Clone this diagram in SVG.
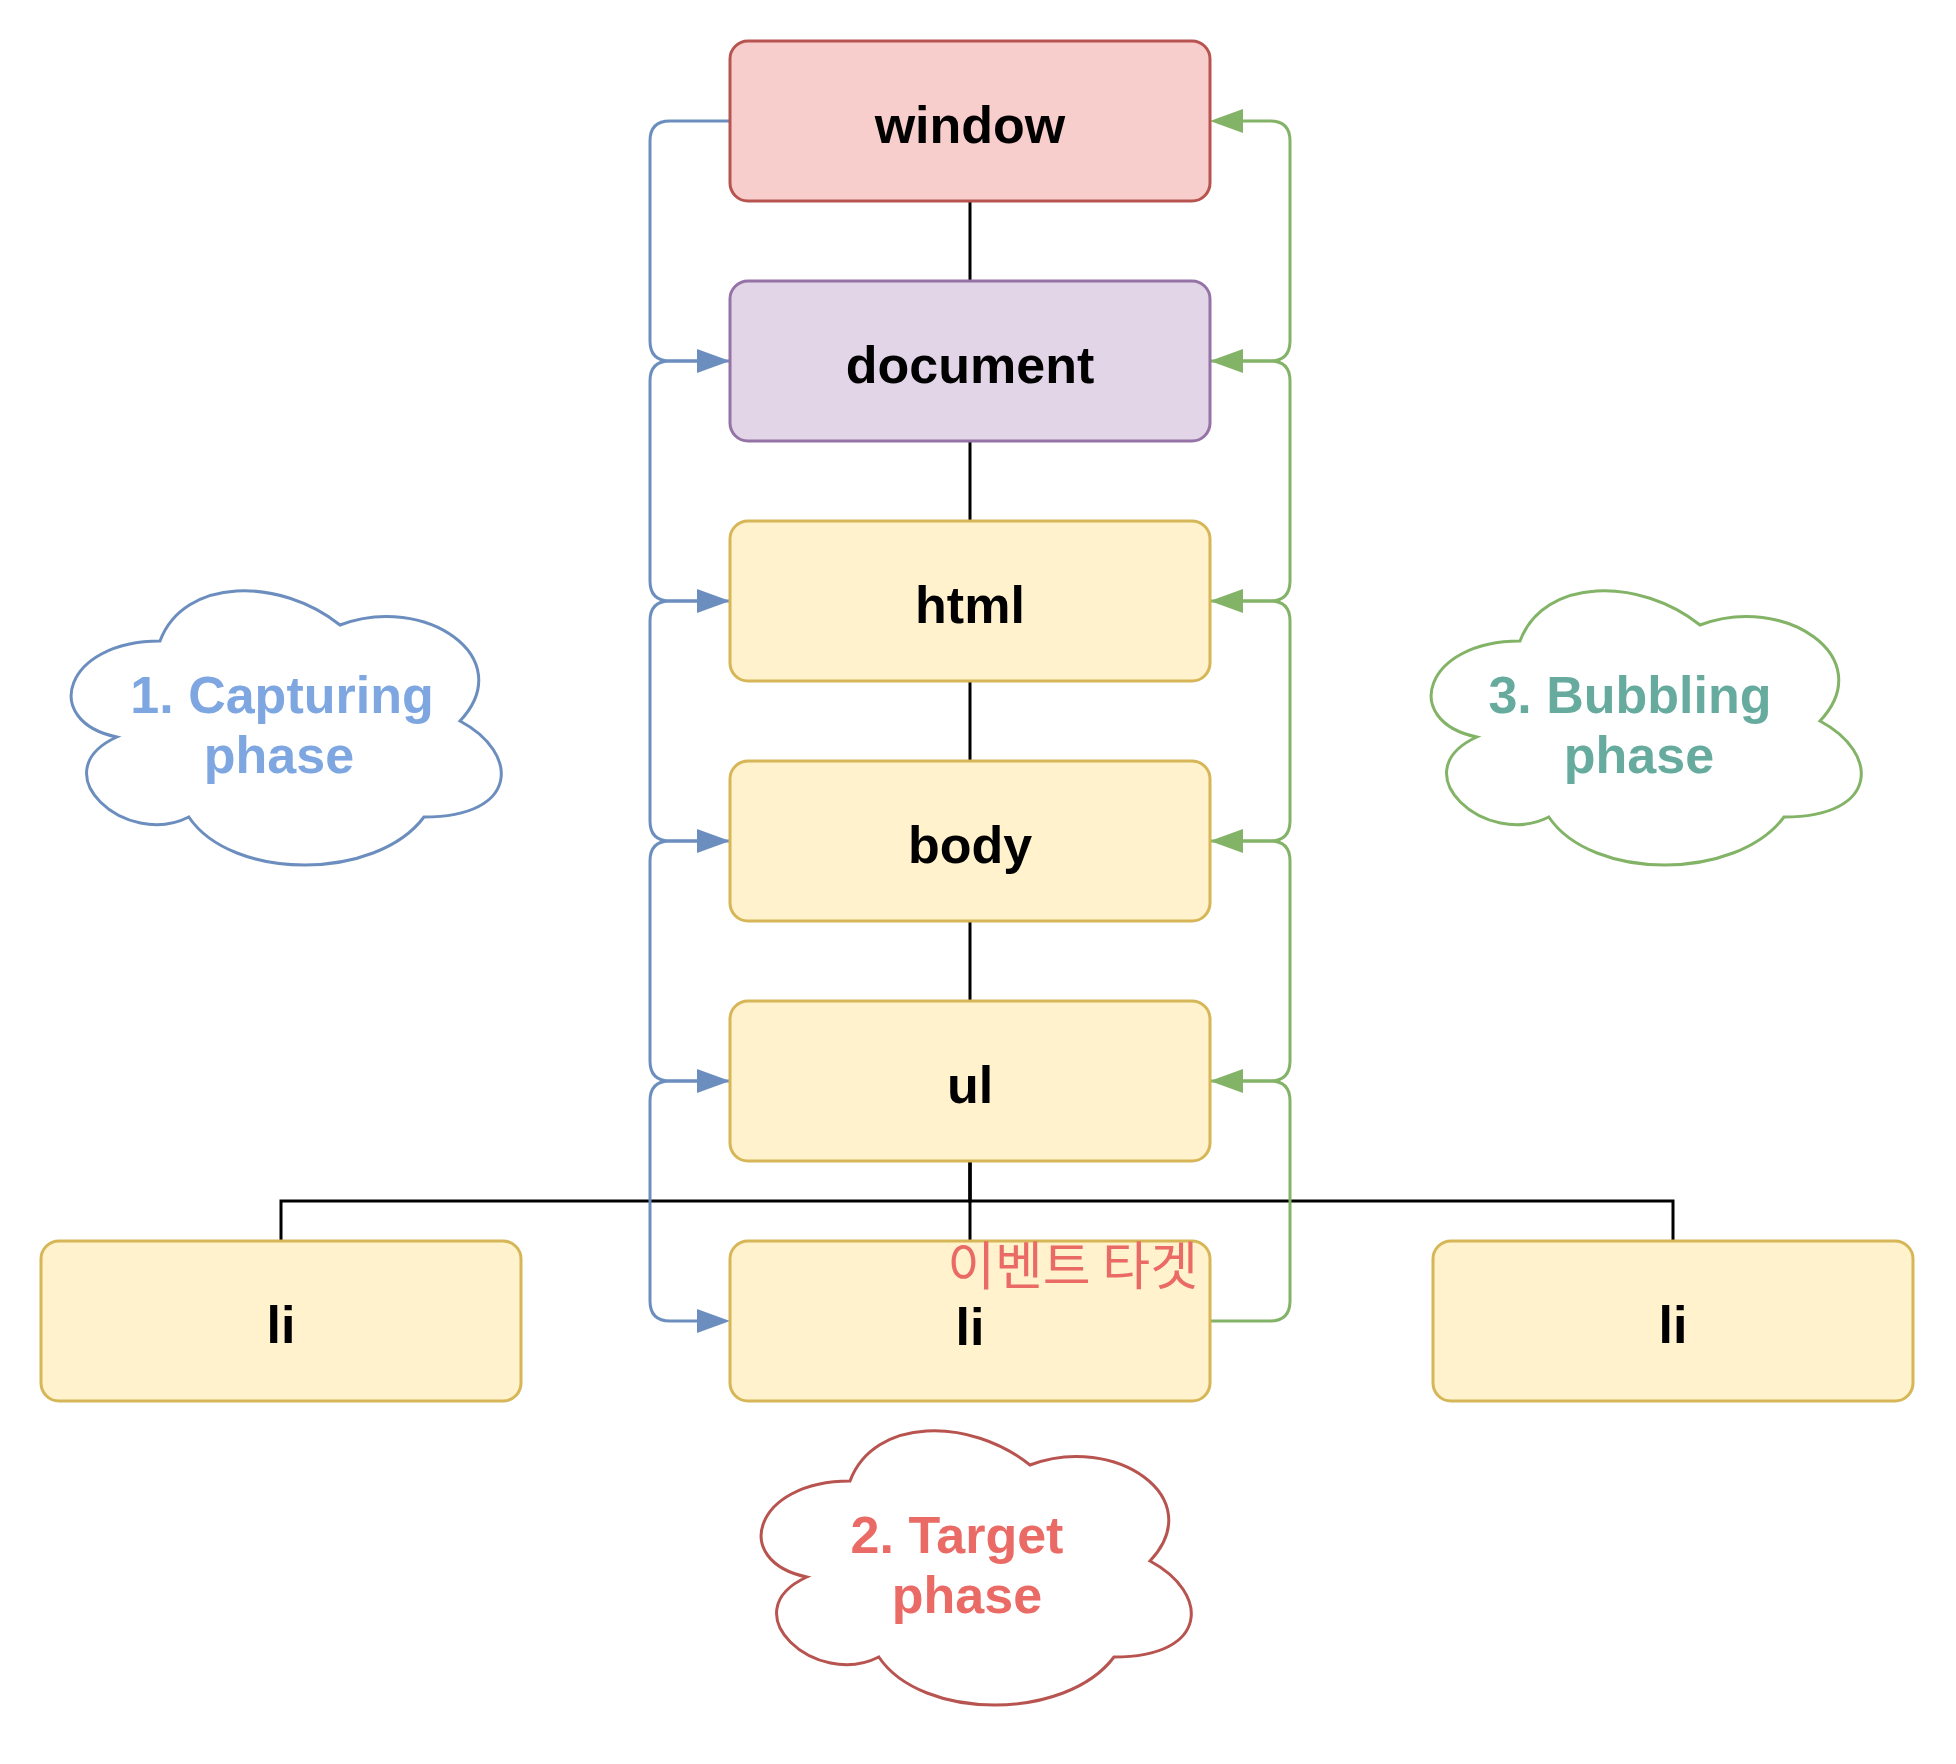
<svg xmlns="http://www.w3.org/2000/svg" width="1956" height="1764" viewBox="0 0 1956 1764">
<style>
  .box { stroke-width: 3; }
  .win { fill: #F8CECC; stroke: #B85450; }
  .doc { fill: #E1D5E7; stroke: #9673A6; }
  .yel { fill: #FFF2CC; stroke: #D6B656; }
  .lbl { font-family: "Liberation Sans", "Noto Sans", sans-serif; font-weight: bold; font-size: 52px; fill: #000000; text-anchor: middle; }
  .tree { fill: none; stroke: #000000; stroke-width: 3; }
  .cap { fill: none; stroke: #6C8EBF; stroke-width: 3; marker-end: url(#arrBlue); }
  .bub { fill: none; stroke: #82B366; stroke-width: 3; marker-end: url(#arrGreen); }
  .cloud { fill: #FFFFFF; stroke-width: 3; }
  .ctext { font-family: "Liberation Sans", "Noto Sans", sans-serif; font-weight: bold; font-size: 52px; text-anchor: middle; }
</style>
<defs>
  <marker id="arrBlue" markerUnits="userSpaceOnUse" markerWidth="34" markerHeight="26" viewBox="0 0 34 26" refX="1" refY="13" orient="auto">
    <path d="M0,1 L33,13 L0,25 Z" fill="#6C8EBF"/>
  </marker>
  <marker id="arrGreen" markerUnits="userSpaceOnUse" markerWidth="34" markerHeight="26" viewBox="0 0 34 26" refX="1" refY="13" orient="auto">
    <path d="M0,1 L33,13 L0,25 Z" fill="#82B366"/>
  </marker>
  <path id="cloudShape" d="M120,80 C24,80 0,160 76.8,176 C0,211.2 86.4,288 148.8,256 C192,320 336,320 384,256 C480,256 480,192 420,160 C480,96 384,32 300,64 C240,16 144,16 120,80 Z"/>
</defs>
<rect width="1956" height="1764" fill="#FFFFFF"/>

<g id="connectors">
  <path class="tree" d="M970,201 V281"/>
  <path class="tree" d="M970,441 V521"/>
  <path class="tree" d="M970,681 V761"/>
  <path class="tree" d="M970,921 V1001"/>
  <path class="tree" d="M970,1161 V1241"/>
  <path class="tree" d="M970,1161 V1201 H281 V1241"/>
  <path class="tree" d="M970,1161 V1201 H1673 V1241"/>

  <path class="cap" d="M730,121 L670,121 Q650,121 650,141 L650,341 Q650,361 670,361 L698,361"/>
  <path class="cap" d="M730,361 L670,361 Q650,361 650,381 L650,581 Q650,601 670,601 L698,601"/>
  <path class="cap" d="M730,601 L670,601 Q650,601 650,621 L650,821 Q650,841 670,841 L698,841"/>
  <path class="cap" d="M730,841 L670,841 Q650,841 650,861 L650,1061 Q650,1081 670,1081 L698,1081"/>
  <path class="cap" d="M730,1081 L670,1081 Q650,1081 650,1101 L650,1301 Q650,1321 670,1321 L698,1321"/>

  <path class="bub" d="M1210,1321 L1270,1321 Q1290,1321 1290,1301 L1290,1101 Q1290,1081 1270,1081 L1242,1081"/>
  <path class="bub" d="M1210,1081 L1270,1081 Q1290,1081 1290,1061 L1290,861 Q1290,841 1270,841 L1242,841"/>
  <path class="bub" d="M1210,841 L1270,841 Q1290,841 1290,821 L1290,621 Q1290,601 1270,601 L1242,601"/>
  <path class="bub" d="M1210,601 L1270,601 Q1290,601 1290,581 L1290,381 Q1290,361 1270,361 L1242,361"/>
  <path class="bub" d="M1210,361 L1270,361 Q1290,361 1290,341 L1290,141 Q1290,121 1270,121 L1242,121"/>
</g>

<g id="node-window">
  <rect class="box win" x="730" y="41" width="480" height="160" rx="18" ry="18"/>
  <text class="lbl" x="970" y="143">window</text>
</g>
<g id="node-document">
  <rect class="box doc" x="730" y="281" width="480" height="160" rx="18" ry="18"/>
  <text class="lbl" x="970" y="383">document</text>
</g>
<g id="node-html">
  <rect class="box yel" x="730" y="521" width="480" height="160" rx="18" ry="18"/>
  <text class="lbl" x="970" y="623">html</text>
</g>
<g id="node-body">
  <rect class="box yel" x="730" y="761" width="480" height="160" rx="18" ry="18"/>
  <text class="lbl" x="970" y="863">body</text>
</g>
<g id="node-ul">
  <rect class="box yel" x="730" y="1001" width="480" height="160" rx="18" ry="18"/>
  <text class="lbl" x="970" y="1103">ul</text>
</g>
<g id="node-li-left">
  <rect class="box yel" x="41" y="1241" width="480" height="160" rx="18" ry="18"/>
  <text class="lbl" x="281" y="1343">li</text>
</g>
<g id="node-li-target">
  <rect class="box yel" x="730" y="1241" width="480" height="160" rx="18" ry="18"/>
  <text class="lbl" x="970" y="1345">li</text>
  <text x="1198" y="1285" text-anchor="end" font-family="'Noto Sans CJK KR', 'Noto Sans', sans-serif" font-size="52" fill="#EA6B66">이벤트 타겟</text>
</g>
<g id="node-li-right">
  <rect class="box yel" x="1433" y="1241" width="480" height="160" rx="18" ry="18"/>
  <text class="lbl" x="1673" y="1343">li</text>
</g>

<g id="cloud-capturing">
  <use href="#cloudShape" transform="translate(40,561)" class="cloud" stroke="#6C8EBF"/>
  <text class="ctext" fill="#7EA6E0"><tspan x="282" y="713">1. Capturing</tspan><tspan x="279" y="773">phase</tspan></text>
</g>
<g id="cloud-bubbling">
  <use href="#cloudShape" transform="translate(1400,561)" class="cloud" stroke="#82B366"/>
  <text class="ctext" fill="#67AB9F"><tspan x="1630" y="713">3. Bubbling</tspan><tspan x="1639" y="773">phase</tspan></text>
</g>
<g id="cloud-target">
  <use href="#cloudShape" transform="translate(730,1401)" class="cloud" stroke="#B85450"/>
  <text class="ctext" fill="#EA6B66"><tspan x="957" y="1553">2. Target</tspan><tspan x="967" y="1613">phase</tspan></text>
</g>
</svg>
